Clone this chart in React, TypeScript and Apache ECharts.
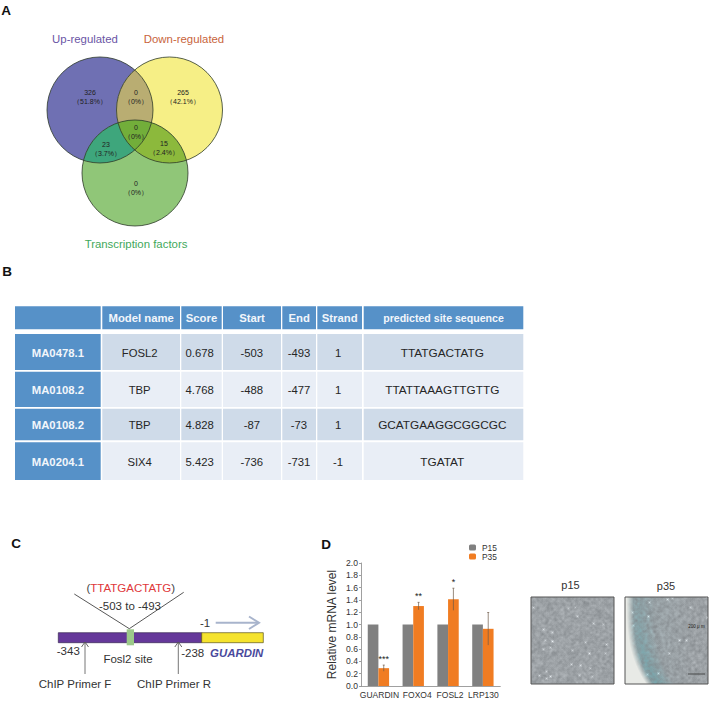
import React, { useEffect, useRef } from "react";
import * as echarts from "echarts";

// ---------- data ----------
const vennTitles = ["Up-regulated", "Down-regulated", "Transcription factors"];
const vennCounts = ["326", "0", "265", "0", "23", "15", "0"];
const vennShares = ["（51.8%）", "（0%）", "（42.1%）", "（0%）", "（3.7%）", "（2.4%）", "（0%）"];

const tableHeader = ["", "Model name", "Score", "Start", "End", "Strand", "predicted site sequence"];
const motifIds = ["MA0478.1", "MA0108.2", "MA0108.2", "MA0204.1"];
const modelNames = ["FOSL2", "TBP", "TBP", "SIX4"];
const scores = ["0.678", "4.768", "4.828", "5.423"];
const starts = ["-503", "-488", "-87", "-736"];
const ends = ["-493", "-477", "-73", "-731"];
const strands = ["1", "1", "1", "-1"];
const sequences = ["TTATGACTATG", "TTATTAAAGTTGTTG", "GCATGAAGGCGGCGC", "TGATAT"];

const genes = ["GUARDIN", "FOXO4", "FOSL2", "LRP130"];
const p15Values = [1, 1, 1, 1];
const p35Values = [0.29, 1.3, 1.41, 0.93];
const p35Errors = [0.05, 0.06, 0.18, 0.265];
const significance = ["***", "**", "*", ""];

// ---------- layout ----------
const FONT = '"Liberation Sans", Arial, sans-serif';
const circles = [
  { x: 100, y: 110, r: 53 },
  { x: 169.5, y: 110, r: 53 },
  { x: 135, y: 173, r: 53 },
];
type Pt = [number, number];
function meet(a: any, b: any): [Pt, Pt] {
  const dx = b.x - a.x, dy = b.y - a.y, d = Math.hypot(dx, dy);
  const h = Math.sqrt(a.r * a.r - (d / 2) * (d / 2));
  const mx = (a.x + b.x) / 2, my = (a.y + b.y) / 2;
  return [
    [mx - (dy / d) * h, my + (dx / d) * h],
    [mx + (dy / d) * h, my - (dx / d) * h],
  ];
}
function lens(a: any, b: any) {
  const [p, q] = meet(a, b);
  return `M${p[0]} ${p[1]}A${a.r} ${a.r} 0 0 1 ${q[0]} ${q[1]}A${b.r} ${b.r} 0 0 1 ${p[0]} ${p[1]}Z`;
}
function inner(a: any, b: any, c: any): Pt {
  const [p, q] = meet(a, b);
  return Math.hypot(p[0] - c.x, p[1] - c.y) < c.r ? p : q;
}
const [c1, c2, c3] = circles;
const v12 = inner(c1, c2, c3), v13 = inner(c1, c3, c2), v23 = inner(c2, c3, c1);
const R = c1.r;
const lensShapes: Record<string, string> = {
  vennLens12: lens(c1, c2),
  vennLens13: lens(c1, c3),
  vennLens23: lens(c2, c3),
  vennCore: `M${v12[0]} ${v12[1]}A${R} ${R} 0 0 0 ${v13[0]} ${v13[1]}A${R} ${R} 0 0 0 ${v23[0]} ${v23[1]}A${R} ${R} 0 0 0 ${v12[0]} ${v12[1]}Z`,
};
Object.keys(lensShapes).forEach((k) =>
  echarts.graphic.registerShape(k, (echarts.graphic as any).extendPath(lensShapes[k], {}))
);

function txt(x: number, y: number, text: string, size: number, fill: string, extra: any = {}) {
  const { weight, italic, ...rest } = extra;
  return {
    type: "text", x, y, silent: true,
    style: {
      text, fill,
      font: `${italic ? "italic " : ""}${weight ? "bold " : ""}${size}px ${FONT}`,
      align: "center", verticalAlign: "middle",
      textAlign: "center", textVerticalAlign: "middle",
      ...rest,
    },
  };
}
function seg(x1: number, y1: number, x2: number, y2: number, stroke: string, lineWidth = 1) {
  return { type: "line", silent: true, shape: { x1, y1, x2, y2 }, style: { stroke, lineWidth, fill: "none" } };
}
function poly(points: Pt[], stroke: string, lineWidth = 1) {
  return { type: "polyline", silent: true, shape: { points }, style: { stroke, lineWidth, fill: "none" } };
}
function rect(x: number, y: number, width: number, height: number, fill: string, stroke?: string) {
  return { type: "rect", silent: true, shape: { x, y, width, height }, style: { fill, stroke: stroke || "none", lineWidth: stroke ? 0.7 : 0 } };
}

// micrograph-like backdrop (a stand-in for the two photographs, not chart data)
function micrograph(w: number, h: number, seedStart: number, stained: boolean) {
  const cv = document.createElement("canvas");
  cv.width = w; cv.height = h;
  const ctx = cv.getContext("2d")!;
  let seed = seedStart || 1;
  const next = () => {
    seed ^= seed << 13; seed >>>= 0;
    seed ^= seed >>> 17;
    seed ^= seed << 5; seed >>>= 0;
    return seed / 4294967296;
  };
  for (let i = 0; i < 50; i++) next();
  const raw: number[] = [];
  for (let i = 0; i < w * h; i++) raw.push(next() - 0.5);
  const at = (x: number, y: number) => raw[((y + h) % h) * w + ((x + w) % w)];
  const blur = (x: number, y: number) => {
    let s = 0;
    for (let dy = -1; dy <= 1; dy++) for (let dx = -1; dx <= 1; dx++) s += at(x + dx, y + dy) * (dx === 0 && dy === 0 ? 2 : 1);
    return s / 10;
  };
  const bright = new Array(w * h).fill(0);
  const specks = stained ? 14 : 26;
  for (let i = 0; i < specks; i++) {
    const cx = Math.floor(next() * w), cy = Math.floor(next() * h);
    const strength = 35 + next() * 45;
    for (let dy = -1; dy <= 1; dy++) for (let dx = -1; dx <= 1; dx++) {
      const xx = cx + dx, yy = cy + dy;
      if (xx >= 0 && yy >= 0 && xx < w && yy < h) bright[yy * w + xx] += strength * (dx === 0 && dy === 0 ? 1 : 0.3);
    }
  }
  const img = ctx.createImageData(w, h);
  for (let y = 0; y < h; y++) {
    for (let x = 0; x < w; x++) {
      const s = blur(x, y) * 60 + bright[y * w + x];
      let r = 156 + s, g = 161 + s, b = 165 + s;
      if (stained) {
        const f = y / h;
        const bound = 20 * Math.pow(f, 3) + 1;
        const lit = Math.max(0, Math.min(1, 1 - (x - bound) / 7));
        const band = Math.max(0, 1 - Math.abs(x - bound - 12) / 16) * (0.25 + f * 0.6);
        const haze = 0.22 * Math.max(0, 1 - x / 70);
        const teal = Math.min(1, band + haze) * (0.6 + (blur(x, y) + 0.2) * 1.4);
        r += (85 - r) * teal * 0.55; g += (150 - g) * teal * 0.25; b += (160 - b) * teal * 0.2;
        r += (232 - r) * lit; g += (234 - g) * lit; b += (230 - b) * lit;
      }
      const j = (y * w + x) * 4;
      img.data[j] = r; img.data[j + 1] = g; img.data[j + 2] = b; img.data[j + 3] = 255;
    }
  }
  ctx.putImageData(img, 0, 0);
  return cv.toDataURL("image/png");
}

function buildGraphics() {
  const out: any[] = [];
  // panel letters
  out.push(txt(6, 10, "A", 13.5, "#111", { weight: 1 }));
  out.push(txt(7, 271, "B", 13.5, "#111", { weight: 1 }));
  out.push(txt(16, 543, "C", 13.5, "#111", { weight: 1 }));
  out.push(txt(326, 544, "D", 13.5, "#111", { weight: 1 }));

  // panel A
  const fills = ["#6f70b3", "#f6ef86", "#90c678"];
  circles.forEach((c, i) => out.push({ type: "circle", silent: true, shape: { cx: c.x, cy: c.y, r: c.r }, style: { fill: fills[i] } }));
  out.push({ type: "vennLens12", silent: true, style: { fill: "#b9ad72" } });
  out.push({ type: "vennLens13", silent: true, style: { fill: "#3ea67c" } });
  out.push({ type: "vennLens23", silent: true, style: { fill: "#8cb93c" } });
  out.push({ type: "vennCore", silent: true, style: { fill: "#72ae3a" } });
  circles.forEach((c) => out.push({ type: "circle", silent: true, shape: { cx: c.x, cy: c.y, r: c.r }, style: { fill: "none", stroke: "#2d3a2a", lineWidth: 0.8 } }));
  const titleSpots: [number, number, string][] = [[85, 39, "#6a55a5"], [184, 39, "#c8643c"], [136, 244, "#3fa85a"]];
  vennTitles.forEach((t, i) => out.push(txt(titleSpots[i][0], titleSpots[i][1], t, 11.4, titleSpots[i][2])));
  const countSpots: Pt[] = [[90, 92], [136, 92], [183, 92], [136, 127], [106, 144], [164, 143], [136, 183]];
  vennCounts.forEach((t, i) => {
    out.push(txt(countSpots[i][0], countSpots[i][1], t, 7, "#222"));
    out.push(txt(countSpots[i][0], countSpots[i][1] + 9.5, vennShares[i], 7, "#222"));
  });

  // panel B
  const colX: [number, number][] = [[15, 100.7], [102.3, 180], [181.3, 221.7], [223, 281], [282.3, 316], [317.3, 362], [363.7, 523.3]];
  const rowY: [number, number][] = [[334, 370], [371.7, 407], [408.7, 440.3], [442.3, 480]];
  const bodyNudge = [0, -1.5, -1.8, -0.2, -0.2, -1.6, -1.2];
  const blue = "#5691c8";
  tableHeader.forEach((h, c) => {
    const [a, b] = colX[c];
    out.push(rect(a, 306.3, b - a, 23, blue));
    if (h) out.push(txt((a + b) / 2, 318, h, c === 6 ? 10.6 : 11.3, "#f2f6fb", { weight: 1 }));
  });
  const columns = [motifIds, modelNames, scores, starts, ends, strands, sequences];
  rowY.forEach(([top, bot], r) => {
    columns.forEach((col, c) => {
      const [a, b] = colX[c];
      out.push(rect(a, top, b - a, bot - top, c === 0 ? blue : r % 2 === 0 ? "#cfdbe9" : "#e9eef6"));
      out.push(txt((a + b) / 2 + bodyNudge[c], (top + bot) / 2 + 0.5, col[r], c === 6 ? 11.8 : 11.3, c === 0 ? "#f2f6fb" : "#262626", c === 0 ? { weight: 1 } : {}));
    });
  });

  // panel C
  out.push(rect(58.3, 632.7, 143.4, 10, "#65389a", "#3a2a55"));
  out.push(rect(201.7, 632.7, 61.6, 10, "#f5e32e", "#5a5520"));
  out.push(rect(126.7, 629.3, 7.3, 16, "#9cc98a"));
  out.push(poly([[74.3, 594], [129.3, 628.7], [183.7, 592.3]], "#444", 0.9));
  out.push(txt(130.7, 588, "{d|(}{r|TTATGACTATG}{d|)}", 11.5, "#333", {
    rich: {
      d: { fill: "#444", font: `11.5px ${FONT}` },
      r: { fill: "#e0383a", font: `11.5px ${FONT}` },
    },
  }));
  out.push(txt(130, 605.7, "-503 to -493", 11.5, "#333"));
  out.push(txt(205, 623.3, "-1", 11.5, "#333"));
  out.push(seg(215.7, 622.7, 258, 622.7, "#a8b4cc", 2));
  out.push(poly([[249, 616.5], [259, 622.7], [249, 629]], "#a8b4cc", 2));
  out.push(txt(68.3, 651.3, "-343", 11.5, "#333"));
  out.push(txt(192.7, 653.3, "-238", 11.5, "#333"));
  out.push(txt(236.7, 652.7, "GUARDIN", 11.4, "#4a4a9c", { weight: 1, italic: 1 }));
  out.push(txt(128, 659.3, "Fosl2 site", 11.5, "#333"));
  out.push(txt(75, 684, "ChIP Primer F", 11.5, "#333"));
  out.push(txt(174, 684, "ChIP Primer R", 11.5, "#333"));
  [85, 178.3].forEach((x) => {
    out.push(seg(x, 674, x, 642.5, "#666", 0.9));
    out.push(poly([[x - 3.5, 647], [x, 642], [x + 3.5, 647]], "#555", 0.9));
  });

  // panel D photos
  out.push(txt(570.5, 585, "p15", 11, "#333"));
  out.push(txt(666, 586, "p35", 11, "#333"));
  const photos: [number, number, boolean][] = [[531, 73921, false], [625, 918273, true]];
  photos.forEach(([x, seedStart, stained]) => {
    out.push({ type: "image", silent: true, style: { image: micrograph(83, 87, seedStart, stained), x, y: 597, width: 83, height: 87 } });
    out.push({ type: "rect", silent: true, shape: { x, y: 597, width: 83, height: 87 }, style: { fill: "none", stroke: "#555", lineWidth: 1 } });
  });
  out.push(txt(696.5, 626, "200 μ m", 4.5, "#222"));
  out.push(seg(688, 674, 705, 674, "#333", 0.8));
  return out;
}

const errorSeries = {
  type: "custom",
  name: "error",
  silent: true,
  z: 5,
  data: genes.map((_, i) => [i, p35Values[i], p35Errors[i], i]),
  encode: { x: 0, y: 1 },
  renderItem(_: any, api: any) {
    const i = api.value(0), v = api.value(1), e = api.value(2);
    const off = 10.67 / 2;
    const hi = api.coord([i, v + e]), lo = api.coord([i, v - e]);
    const x = hi[0] + off;
    return {
      type: "group",
      children: [
        { type: "line", shape: { x1: x, y1: hi[1], x2: x, y2: lo[1] }, style: { stroke: "#6e5a48", lineWidth: 0.7 } },
        { type: "line", shape: { x1: x - 1, y1: hi[1], x2: x + 1, y2: hi[1] }, style: { stroke: "#6e5a48", lineWidth: 0.7 } },
        {
          type: "text", x, y: hi[1] - 1.5,
          style: { text: significance[api.value(3)], fill: "#222", font: `9px ${FONT}`, align: "center", verticalAlign: "bottom", textAlign: "center", textVerticalAlign: "bottom" },
        },
      ],
    };
  },
};

const labelRich = {
  g0: { fontSize: 8.5, color: "#333", fontFamily: FONT, padding: [0, 0, 0, 2] },
  g1: { fontSize: 8.5, color: "#333", fontFamily: FONT, padding: [0, 0, 0, 8] },
  g2: { fontSize: 8.5, color: "#333", fontFamily: FONT, padding: [0, 0, 0, 4] },
  g3: { fontSize: 8.5, color: "#333", fontFamily: FONT, padding: [0, 0, 0, 1] },
};

export default function App() {
  const ref = useRef<HTMLDivElement>(null);
  useEffect(() => {
    document.body.style.margin = "0";
    document.body.style.background = "#fff";
    const chart = echarts.init(ref.current!, null, { renderer: "svg" });
    chart.setOption({
      animation: false,
      backgroundColor: "#fff",
      textStyle: { fontFamily: FONT },
      grid: { left: 361, top: 563, width: 139.3, height: 123, containLabel: false },
      legend: {
        left: 469, top: 543.5, padding: 0, orient: "vertical", itemWidth: 7, itemHeight: 6, itemGap: 1,
        data: ["P15", "P35"],
        textStyle: { fontSize: 8.4, color: "#333", fontFamily: FONT, padding: [0, 0, 0, 1] },
        selectedMode: false,
      },
      xAxis: {
        type: "category", data: genes,
        axisTick: { show: false },
        axisLine: { lineStyle: { color: "#888", width: 0.8 } },
        axisLabel: {
          margin: 4, interval: 0, rich: labelRich,
          formatter: (v: string, i: number) => `{g${i}|${v}}`,
        },
      },
      yAxis: {
        type: "value", min: 0, max: 2, interval: 0.2,
        name: "Relative mRNA level", nameLocation: "middle", nameGap: 23,
        nameTextStyle: { fontSize: 12, color: "#333", fontFamily: FONT },
        splitLine: { show: false },
        axisLine: { show: true, lineStyle: { color: "#888", width: 0.8 } },
        axisTick: { show: true, length: 2, lineStyle: { color: "#888", width: 0.8 } },
        axisLabel: { fontSize: 8.6, color: "#333", margin: 3, fontFamily: FONT, formatter: (v: number) => v.toFixed(1), padding: [5, 0, 0, 0] },
      },
      series: [
        { type: "bar", name: "P15", data: p15Values, barWidth: 10.67, barGap: 0, itemStyle: { color: "#808080" } },
        { type: "bar", name: "P35", data: p35Values, barWidth: 10.67, barGap: 0, itemStyle: { color: "#f07c22" } },
        errorSeries,
      ],
      graphic: { elements: buildGraphics() },
    });
    return () => chart.dispose();
  }, []);
  return <div ref={ref} style={{ width: 709, height: 702, position: "absolute", left: 0, top: 0 }} />;
}
